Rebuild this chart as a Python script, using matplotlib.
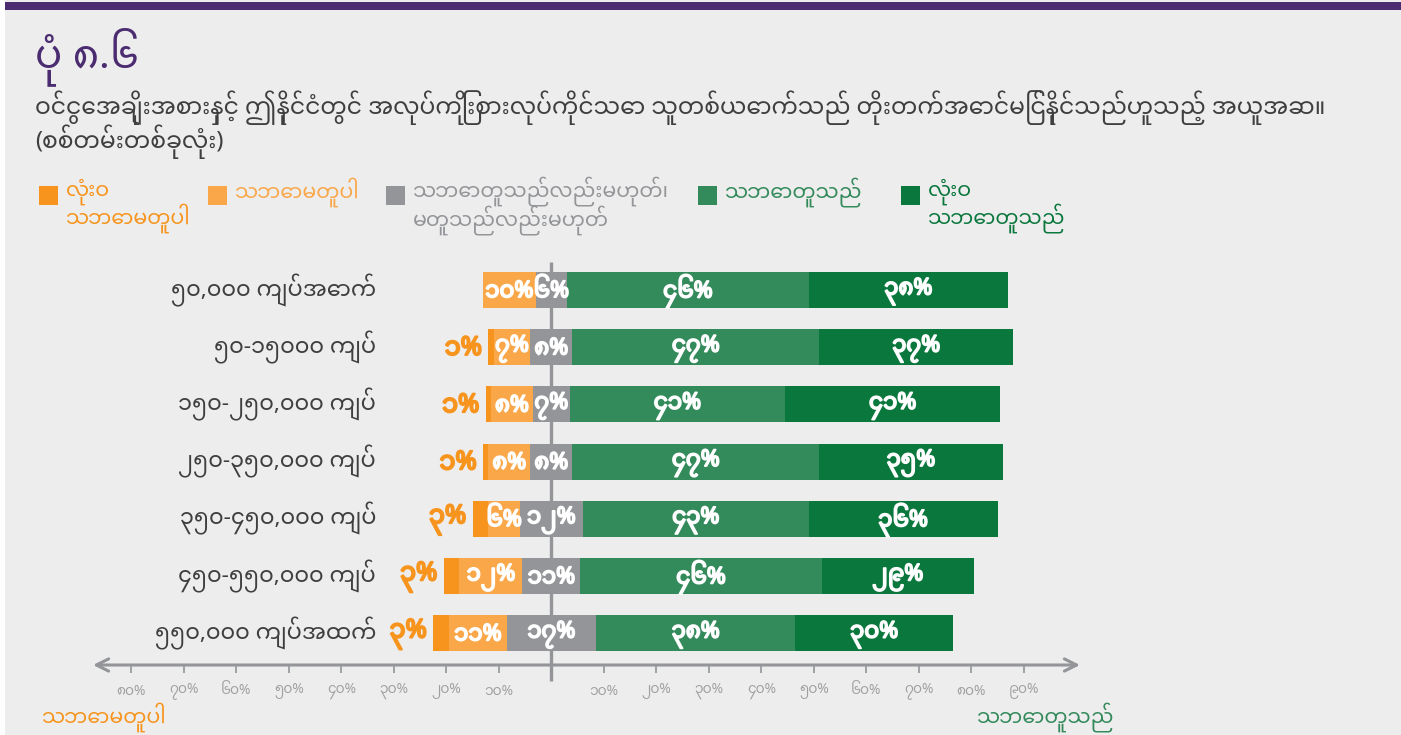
import matplotlib
matplotlib.use('Agg')
import matplotlib.pyplot as plt
import matplotlib.transforms as mtransforms
import matplotlib.patheffects as pe
from matplotlib import font_manager
from matplotlib.ft2font import FT2Font
from matplotlib.patches import Rectangle

W, H = 1401, 735

categories = [
    '၅၀,၀၀၀ ကျပ်အောက်',
    '၅၀-၁၅၀၀၀ ကျပ်',
    '၁၅၀-၂၅၀,၀၀၀ ကျပ်',
    '၂၅၀-၃၅၀,၀၀၀ ကျပ်',
    '၃၅၀-၄၅၀,၀၀၀ ကျပ်',
    '၄၅၀-၅၅၀,၀၀၀ ကျပ်',
    '၅၅၀,၀၀၀ ကျပ်အထက်',
]
strongly_disagree = [0, 1, 1, 1, 3, 3, 3]
disagree = [10, 7, 8, 8, 6, 12, 11]
neutral = [6, 8, 7, 8, 12, 11, 17]
agree = [46, 47, 41, 47, 43, 46, 38]
strongly_agree = [38, 37, 41, 35, 36, 29, 30]

left_ticks = [10, 20, 30, 40, 50, 60, 70, 80]
right_ticks = [10, 20, 30, 40, 50, 60, 70, 80, 90]

legend_labels = [
    'လုံးဝ\nသဘောမတူပါ',
    'သဘောမတူပါ',
    'သဘောတူသည်လည်းမဟုတ်၊\nမတူသည်လည်းမဟုတ်',
    'သဘောတူသည်',
    'လုံးဝ\nသဘောတူသည်',
]
title = 'ပုံ ၈.၆'
subtitle_lines = [
    'ဝင်ငွေအချိုးအစားနှင့် ဤနိုင်ငံတွင် အလုပ်ကြိုးစားလုပ်ကိုင်သော သူတစ်ယောက်သည် '
    'တိုးတက်အောင်မြင်နိုင်သည်ဟူသည့် အယူအဆ။',
    '(စစ်တမ်းတစ်ခုလုံး)',
]
left_arrow_label = 'သဘောမတူပါ'
right_arrow_label = 'သဘောတူသည်'

c_sd = '#F7941D'
c_d = '#FAA74A'
c_n = '#939598'
c_a = '#338A5B'
c_sa = '#0A773D'
bg = '#EDEDED'
purple = '#4B2C71'
text_dark = '#3F3F3F'
axis_gray = '#939598'

MM_DIGITS = str.maketrans('0123456789', '၀၁၂၃၄၅၆၇၈၉')


def mm(n):
    return (str(n) + '%').translate(MM_DIGITS)


def find_myanmar_font():
    names = []
    for f in font_manager.fontManager.ttflist:
        try:
            if 0x1000 in FT2Font(f.fname).get_charmap():
                names.append(f.name)
        except Exception:
            pass
    for pref in ['Noto Sans Myanmar', 'Padauk', 'Myanmar Text']:
        if pref in names:
            return pref
    if names:
        return names[0]
    return 'DejaVu Sans'


mm_font = find_myanmar_font()
plt.rcParams['font.family'] = [mm_font, 'DejaVu Sans']


def fx(x):
    return x / W


def fy(y):
    return 1 - y / H


def bold(color, w=1.0):
    return [pe.withStroke(linewidth=w, foreground=color)]


fig = plt.figure(figsize=(W / 100, H / 100), dpi=100)
fig.patch.set_facecolor(bg)
fig.add_artist(Rectangle((0, 0), 5 / W, 1, transform=fig.transFigure,
                         color='white', lw=0))
fig.add_artist(Rectangle((5 / W, fy(10)), 1, 8 / H, transform=fig.transFigure,
                         color=purple, lw=0))

fig.text(fx(35), fy(57), title, color=purple, fontsize=29, va='center', ha='left')
fig.text(fx(35), fy(108), subtitle_lines[0], color=text_dark, fontsize=16.9,
         style='italic', va='center', ha='left')
fig.text(fx(35), fy(142), subtitle_lines[1], color=text_dark, fontsize=16.9,
         style='italic', va='center', ha='left')

# legend drawn by hand
legend_x = [39, 208, 386, 698, 901]
legend_col = [c_sd, c_d, c_n, c_a, c_sa]
for lx, col, lab in zip(legend_x, legend_col, legend_labels):
    fig.add_artist(Rectangle((fx(lx), fy(205)), 19 / W, 19 / H,
                             transform=fig.transFigure, color=col, lw=0))
    nl = lab.count('\n')
    fig.text(fx(lx + 27), fy(192 + 13.5 * nl), lab, color=col, fontsize=14.8,
             va='center', ha='left', linespacing=0.93)

# main axes: 5.25 px per percent, rows 57.2 px apart
px_per = 5.25
x0 = 551.3
ax = fig.add_axes([fx(93), 0, fx(1080) - fx(93), (H - 255) / H])
ax.set_xlim((93 - x0) / px_per, (1080 - x0) / px_per)
ax.set_ylim((735 - 290) / 57.2, (255 - 290) / 57.2)
ax.axis('off')

bar_h = 0.63
y_axis = 6.556
ax.vlines(0, -0.49, 6.84, color=axis_gray, lw=2.4, zorder=0)

for i in range(len(categories)):
    n = neutral[i]
    d = disagree[i]
    s = strongly_disagree[i]
    a = agree[i]
    sa = strongly_agree[i]
    segs = [
        (-n / 2 - d - s, s, c_sd),
        (-n / 2 - d, d, c_d),
        (-n / 2, n, c_n),
        (n / 2, a, c_a),
        (n / 2 + a, sa, c_sa),
    ]
    for left, width, col in segs:
        if width > 0:
            ax.barh(i, width, left=left, height=bar_h, color=col, lw=0, zorder=2)
    for left, width, col in segs[1:]:
        ax.text(left + width / 2, i + 0.02, mm(width), color='white', fontsize=16.5,
                ha='center', va='center', zorder=3, path_effects=bold('white', 1.3))
    if s > 0:
        ax.text(-n / 2 - d - s - 1.2, i + 0.02, mm(s), color=c_sd, fontsize=18.5,
                ha='right', va='center', zorder=3, path_effects=bold(c_sd, 1.5))

trans = mtransforms.blended_transform_factory(fig.transFigure, ax.transData)
for i, cat in enumerate(categories):
    ax.text(fx(376), i, cat, transform=trans, color=text_dark, fontsize=16.2,
            ha='right', va='center')

# bottom arrow axis
ax.annotate('', xy=((1080 - x0) / px_per, y_axis), xytext=((93 - x0) / px_per, y_axis),
            arrowprops=dict(arrowstyle='<->', color=axis_gray, lw=2.2,
                            mutation_scale=22, shrinkA=0, shrinkB=0))
for t in left_ticks:
    ax.vlines(-t, y_axis, y_axis + 0.14, color=axis_gray, lw=1.2)
    ax.text(-t, 7.01, mm(t), color='#A0A0A0', fontsize=10, ha='center', va='center')
for t in right_ticks:
    ax.vlines(t, y_axis, y_axis + 0.14, color=axis_gray, lw=1.2)
    ax.text(t, 7.01, mm(t), color='#A0A0A0', fontsize=10, ha='center', va='center')

fig.text(fx(42), fy(717), left_arrow_label, color=c_sd, fontsize=14.8,
         ha='left', va='center')
fig.text(fx(1114), fy(717), right_arrow_label, color=c_a, fontsize=14.8,
         ha='right', va='center')

fig.savefig('out.png', dpi=100, facecolor=bg)
